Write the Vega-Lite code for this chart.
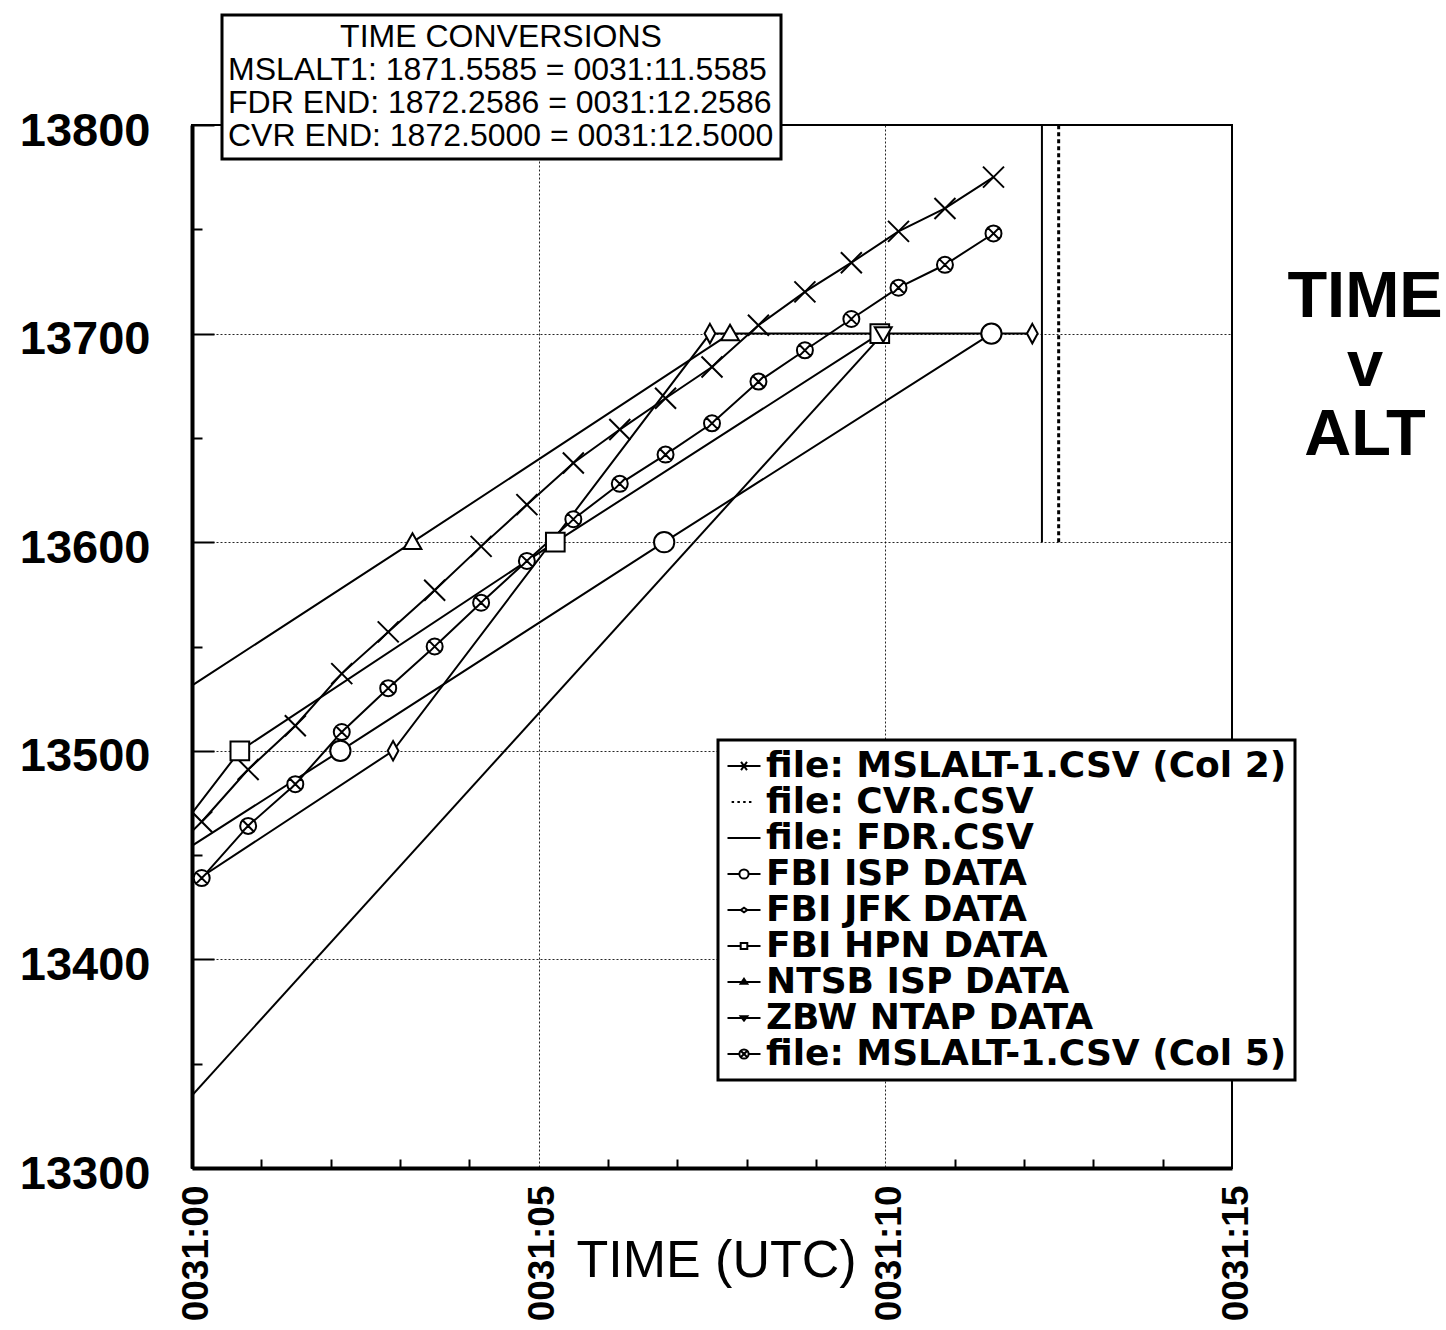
{
  "$schema": "https://vega.github.io/schema/vega-lite/v6.json",
  "autosize": {"type": "none"},
  "width": 1040,
  "height": 1043,
  "padding": {"left": 192, "top": 125, "right": 214, "bottom": 162},
  "background": "white",
  "title": {
    "text": ["TIME", "v", "ALT"],
    "anchor": "end",
    "frame": "group",
    "align": "center",
    "baseline": "top",
    "font": "Liberation Sans",
    "fontSize": 65,
    "fontWeight": "bold",
    "lineHeight": 69,
    "color": "black",
    "offset": 0,
    "dx": 133,
    "dy": 455
  },
  "datasets": {
    "series": [
      {"s": "file: MSLALT-1.CSV (Col 2)", "t": 0.14, "alt": 13466},
      {"s": "file: MSLALT-1.CSV (Col 2)", "t": 0.81, "alt": 13491},
      {"s": "file: MSLALT-1.CSV (Col 2)", "t": 1.49, "alt": 13512},
      {"s": "file: MSLALT-1.CSV (Col 2)", "t": 2.16, "alt": 13537},
      {"s": "file: MSLALT-1.CSV (Col 2)", "t": 2.83, "alt": 13557},
      {"s": "file: MSLALT-1.CSV (Col 2)", "t": 3.50, "alt": 13577},
      {"s": "file: MSLALT-1.CSV (Col 2)", "t": 4.17, "alt": 13598},
      {"s": "file: MSLALT-1.CSV (Col 2)", "t": 4.83, "alt": 13618},
      {"s": "file: MSLALT-1.CSV (Col 2)", "t": 5.50, "alt": 13638},
      {"s": "file: MSLALT-1.CSV (Col 2)", "t": 6.17, "alt": 13654},
      {"s": "file: MSLALT-1.CSV (Col 2)", "t": 6.83, "alt": 13669},
      {"s": "file: MSLALT-1.CSV (Col 2)", "t": 7.50, "alt": 13684},
      {"s": "file: MSLALT-1.CSV (Col 2)", "t": 8.17, "alt": 13704},
      {"s": "file: MSLALT-1.CSV (Col 2)", "t": 8.84, "alt": 13720},
      {"s": "file: MSLALT-1.CSV (Col 2)", "t": 9.51, "alt": 13734},
      {"s": "file: MSLALT-1.CSV (Col 2)", "t": 10.19, "alt": 13749},
      {"s": "file: MSLALT-1.CSV (Col 2)", "t": 10.86, "alt": 13760},
      {"s": "file: MSLALT-1.CSV (Col 2)", "t": 11.56, "alt": 13775},
      {"s": "file: MSLALT-1.CSV (Col 5)", "t": 0.14, "alt": 13439},
      {"s": "file: MSLALT-1.CSV (Col 5)", "t": 0.81, "alt": 13464},
      {"s": "file: MSLALT-1.CSV (Col 5)", "t": 1.49, "alt": 13484},
      {"s": "file: MSLALT-1.CSV (Col 5)", "t": 2.16, "alt": 13509},
      {"s": "file: MSLALT-1.CSV (Col 5)", "t": 2.83, "alt": 13530},
      {"s": "file: MSLALT-1.CSV (Col 5)", "t": 3.50, "alt": 13550},
      {"s": "file: MSLALT-1.CSV (Col 5)", "t": 4.17, "alt": 13571},
      {"s": "file: MSLALT-1.CSV (Col 5)", "t": 4.83, "alt": 13591},
      {"s": "file: MSLALT-1.CSV (Col 5)", "t": 5.50, "alt": 13611},
      {"s": "file: MSLALT-1.CSV (Col 5)", "t": 6.17, "alt": 13628},
      {"s": "file: MSLALT-1.CSV (Col 5)", "t": 6.83, "alt": 13642},
      {"s": "file: MSLALT-1.CSV (Col 5)", "t": 7.50, "alt": 13657},
      {"s": "file: MSLALT-1.CSV (Col 5)", "t": 8.17, "alt": 13677},
      {"s": "file: MSLALT-1.CSV (Col 5)", "t": 8.84, "alt": 13692},
      {"s": "file: MSLALT-1.CSV (Col 5)", "t": 9.51, "alt": 13707},
      {"s": "file: MSLALT-1.CSV (Col 5)", "t": 10.19, "alt": 13722},
      {"s": "file: MSLALT-1.CSV (Col 5)", "t": 10.86, "alt": 13733},
      {"s": "file: MSLALT-1.CSV (Col 5)", "t": 11.56, "alt": 13748},
      {"s": "FBI ISP DATA", "t": -2.56, "alt": 13400},
      {"s": "FBI ISP DATA", "t": 2.14, "alt": 13500},
      {"s": "FBI ISP DATA", "t": 6.81, "alt": 13600},
      {"s": "FBI ISP DATA", "t": 11.53, "alt": 13700},
      {"s": "FBI JFK DATA", "t": -1.67, "alt": 13400},
      {"s": "FBI JFK DATA", "t": 2.90, "alt": 13500},
      {"s": "FBI JFK DATA", "t": 7.47, "alt": 13700},
      {"s": "FBI JFK DATA", "t": 12.12, "alt": 13700},
      {"s": "FBI HPN DATA", "t": -1.62, "alt": 13400},
      {"s": "FBI HPN DATA", "t": 0.69, "alt": 13500},
      {"s": "FBI HPN DATA", "t": 5.24, "alt": 13600},
      {"s": "FBI HPN DATA", "t": 9.92, "alt": 13700},
      {"s": "NTSB ISP DATA", "t": -1.45, "alt": 13500},
      {"s": "NTSB ISP DATA", "t": 3.18, "alt": 13600},
      {"s": "NTSB ISP DATA", "t": 7.76, "alt": 13700},
      {"s": "ZBW NTAP DATA", "t": -0.95, "alt": 13300},
      {"s": "ZBW NTAP DATA", "t": 9.97, "alt": 13700},
      {"s": "file: FDR.CSV", "t": 12.2586, "alt": 13600},
      {"s": "file: FDR.CSV", "t": 12.2586, "alt": 13800},
      {"s": "file: CVR.CSV", "t": 12.5, "alt": 13600},
      {"s": "file: CVR.CSV", "t": 12.5, "alt": 13800}
    ],
    "conv": [
      {"c": "MSLALT1: 1871.5585 = 0031:11.5585"},
      {"c": "FDR END: 1872.2586 = 0031:12.2586"},
      {"c": "CVR END: 1872.5000 = 0031:12.5000"}
    ]
  },
  "data": {"name": "series"},
  "encoding": {
    "x": {
      "field": "t",
      "type": "quantitative",
      "scale": {"domain": [0, 15], "nice": false, "zero": false},
      "axis": {
        "values": [0, 1, 2, 3, 4, 5, 6, 7, 8, 9, 10, 11, 12, 13, 14, 15],
        "labelExpr": "datum.value % 5 === 0 ? '0031:' + (datum.value < 10 ? '0' : '') + datum.value : ''",
        "labelAngle": -90,
        "labelAlign": "right",
        "labelBaseline": "middle",
        "labelFont": "Liberation Sans",
        "labelFontWeight": "bold",
        "labelFontSize": 37,
        "labelColor": "black",
        "labelPadding": 17,
        "labelOffset": 4,
        "labelFlush": false,
        "labelOverlap": false,
        "labelBound": false,
        "domainColor": "black",
        "domainWidth": 4,
        "ticks": true,
        "tickColor": "black",
        "tickWidth": 2,
        "tickSize": {"condition": {"test": "datum.value % 5 === 0", "value": 0}, "value": -9},
        "grid": true,
        "gridColor": "black",
        "gridWidth": 1,
        "gridDash": [2, 2],
        "gridOpacity": {"condition": {"test": "datum.value === 5 || datum.value === 10", "value": 0.85}, "value": 0},
        "title": "TIME (UTC)",
        "titleFont": "Liberation Sans",
        "titleFontSize": 52,
        "titleFontWeight": "normal",
        "titleColor": "black",
        "titleAlign": "center",
        "titleBaseline": "alphabetic",
        "titleX": 524,
        "titleY": 108
      }
    },
    "y": {
      "field": "alt",
      "type": "quantitative",
      "scale": {"domain": [13300, 13800], "nice": false, "zero": false},
      "axis": {
        "values": [13300, 13350, 13400, 13450, 13500, 13550, 13600, 13650, 13700, 13750, 13800],
        "format": "d",
        "labelExpr": "datum.value % 100 === 0 ? datum.label : ''",
        "labelFont": "Liberation Sans",
        "labelFontWeight": "bold",
        "labelFontSize": 47,
        "labelColor": "black",
        "labelPadding": 64,
        "labelOffset": 6,
        "labelBaseline": "middle",
        "labelFlush": false,
        "labelOverlap": false,
        "labelBound": false,
        "domainColor": "black",
        "domainWidth": 4,
        "ticks": true,
        "tickColor": "black",
        "tickWidth": 2,
        "tickSize": {"condition": {"test": "datum.value % 100 === 0", "value": -22}, "value": -10},
        "grid": true,
        "gridColor": "black",
        "gridWidth": 1,
        "gridDash": [2, 2],
        "gridOpacity": {"condition": {"test": "datum.value % 100 === 0 && datum.value > 13300 && datum.value < 13800", "value": 0.85}, "value": 0},
        "title": null
      }
    }
  },
  "layer": [
    {
      "transform": [{"filter": "datum.s !== 'file: CVR.CSV'"}],
      "mark": {"type": "line", "color": "black", "strokeWidth": 2, "clip": true},
      "encoding": {"detail": {"field": "s", "type": "nominal"}}
    },
    {
      "transform": [{"filter": "datum.s === 'file: CVR.CSV'"}],
      "mark": {"type": "line", "color": "black", "strokeWidth": 3, "strokeDash": [4, 3], "clip": true},
      "encoding": {"detail": {"field": "s", "type": "nominal"}}
    },
    {
      "transform": [{"filter": "datum.s !== 'file: CVR.CSV' && datum.s !== 'file: FDR.CSV'"}],
      "mark": {"type": "point", "filled": true, "fill": "white", "stroke": "black", "strokeWidth": 2, "opacity": 1, "clip": true},
      "encoding": {
        "shape": {
          "field": "s",
          "type": "nominal",
          "scale": {
            "domain": ["file: MSLALT-1.CSV (Col 2)", "FBI ISP DATA", "FBI JFK DATA", "FBI HPN DATA", "NTSB ISP DATA", "ZBW NTAP DATA", "file: MSLALT-1.CSV (Col 5)"],
            "range": [
              "M-1,-1L1,1M-1,1L1,-1",
              "M-1,0A1,1 0 1,1 1,0A1,1 0 1,1 -1,0Z",
              "M0,-1L0.55,0L0,1L-0.55,0Z",
              "M-1,-1L1,-1L1,1L-1,1Z",
              "M0,-1L1,0.75L-1,0.75Z",
              "M-1,-0.75L1,-0.75L0,1Z",
              "M-1,0A1,1 0 1,1 1,0A1,1 0 1,1 -1,0ZM-0.7,-0.7L0.7,0.7M-0.7,0.7L0.7,-0.7"
            ]
          },
          "legend": null
        },
        "size": {
          "field": "s",
          "type": "nominal",
          "scale": {
            "domain": ["file: MSLALT-1.CSV (Col 2)", "FBI ISP DATA", "FBI JFK DATA", "FBI HPN DATA", "NTSB ISP DATA", "ZBW NTAP DATA", "file: MSLALT-1.CSV (Col 5)"],
            "range": [441, 256, 256, 256, 225, 144, 256]
          },
          "legend": null
        }
      }
    },
    {
      "transform": [{"filter": "false"}],
      "mark": {"type": "point", "filled": false, "color": "black", "strokeWidth": 2},
      "encoding": {
        "shape": {
          "field": "s",
          "type": "nominal",
          "scale": {
            "domain": ["file: MSLALT-1.CSV (Col 2)", "file: CVR.CSV", "file: FDR.CSV", "FBI ISP DATA", "FBI JFK DATA", "FBI HPN DATA", "NTSB ISP DATA", "ZBW NTAP DATA", "file: MSLALT-1.CSV (Col 5)"],
            "range": [
              "M-1,0H1M-0.18,-0.25L0.18,0.25M-0.18,0.25L0.18,-0.25",
              "M-0.75,0H-0.6M-0.4,0H-0.25M-0.05,0H0.1M0.3,0H0.45",
              "M-1,0H1",
              "M-1,0H-0.28M0.28,0H1M-0.28,0A0.28,0.28 0 1,1 0.28,0A0.28,0.28 0 1,1 -0.28,0Z",
              "M-1,0H-0.2M0.2,0H1M-0.2,0L0,-0.14L0.2,0L0,0.14Z",
              "M-1,0H-0.2M0.2,0H1M-0.2,-0.18L0.2,-0.18L0.2,0.18L-0.2,0.18Z",
              "M-1,0H1M-0.2,0.1L0,-0.2L0.2,0.1Z",
              "M-1,0H1M-0.2,-0.1L0,0.16L0.2,-0.1Z",
              "M-1,0H-0.28M0.28,0H1M-0.28,0A0.28,0.28 0 1,1 0.28,0A0.28,0.28 0 1,1 -0.28,0ZM-0.2,-0.2L0.2,0.2M-0.2,0.2L0.2,-0.2"
            ]
          },
          "legend": {
            "orient": "none",
            "legendX": 526,
            "legendY": 615,
            "title": null,
            "direction": "vertical",
            "symbolSize": 1089,
            "symbolStrokeColor": "black",
            "symbolFillColor": "white",
            "symbolStrokeWidth": 2,
            "symbolOpacity": 1,
            "labelFont": "DejaVu Sans",
            "labelFontWeight": "bold",
            "labelFontSize": 36,
            "labelColor": "black",
            "labelLimit": 1000,
            "labelOffset": 4,
            "rowPadding": 0,
            "padding": 8,
            "strokeColor": "black",
            "fillColor": "white"
          }
        }
      }
    },
    {
      "data": {"name": "conv"},
      "transform": [{"filter": "false"}],
      "mark": {"type": "point", "filled": false},
      "encoding": {
        "color": {
          "field": "c",
          "type": "nominal",
          "scale": {
            "domain": ["MSLALT1: 1871.5585 = 0031:11.5585", "FDR END: 1872.2586 = 0031:12.2586", "CVR END: 1872.5000 = 0031:12.5000"],
            "range": ["black", "black", "black"]
          },
          "legend": {
            "orient": "none",
            "legendX": 30,
            "legendY": -110,
            "title": "TIME CONVERSIONS",
            "titleFont": "Liberation Sans",
            "titleFontSize": 32,
            "titleFontWeight": "normal",
            "titleColor": "black",
            "titleAnchor": "middle",
            "titleAlign": "center",
            "titleLimit": 1000,
            "titlePadding": 0,
            "labelFont": "Liberation Sans",
            "labelFontSize": 32,
            "labelColor": "black",
            "labelLimit": 1000,
            "labelOffset": -33,
            "symbolSize": 0,
            "symbolOpacity": 0,
            "symbolStrokeWidth": 0,
            "rowPadding": 1,
            "padding": 7,
            "strokeColor": "black",
            "fillColor": "white"
          }
        }
      }
    }
  ],
  "resolve": {"scale": {"shape": "independent"}, "legend": {"shape": "independent"}},
  "config": {
    "font": "Liberation Sans",
    "view": {"stroke": "black", "strokeWidth": 2},
    "legend": {"strokeWidth": 3}
  }
}
